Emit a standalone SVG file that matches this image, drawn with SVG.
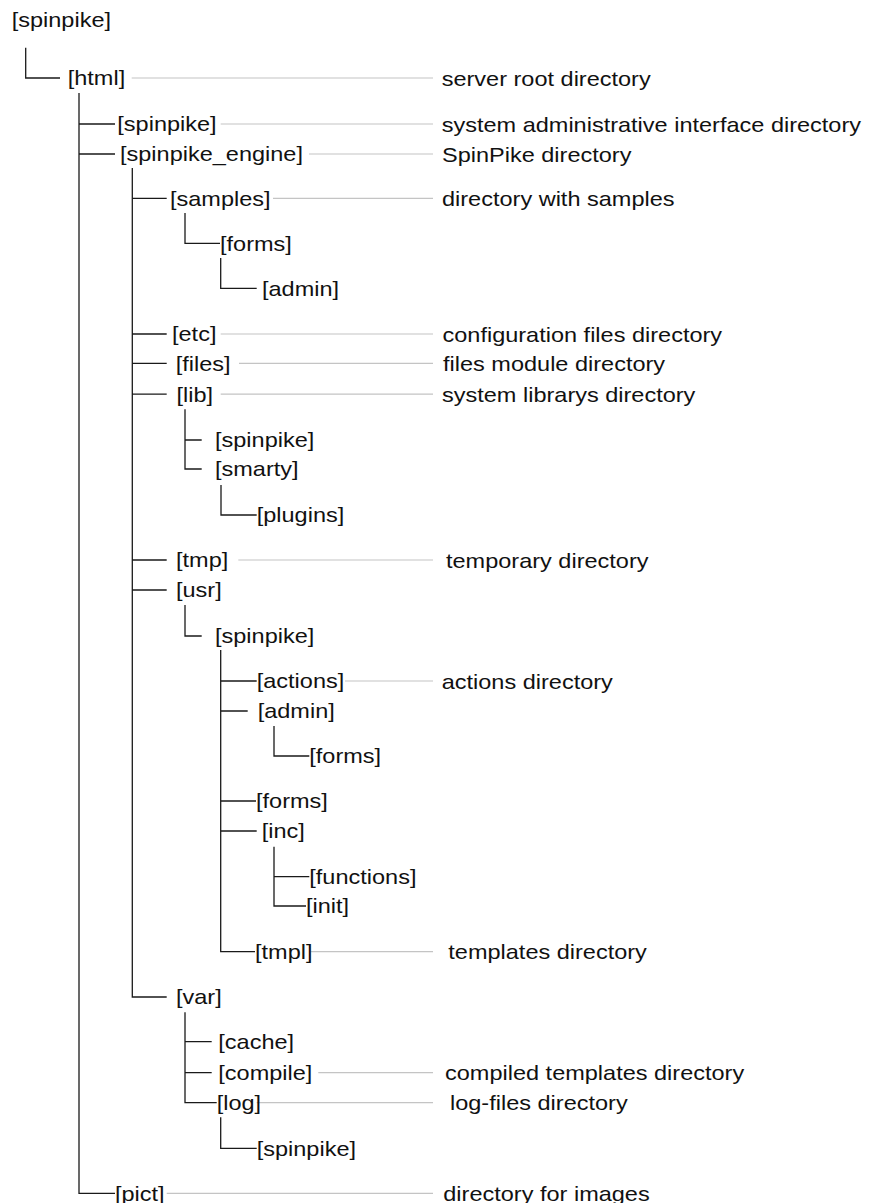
<svg xmlns="http://www.w3.org/2000/svg" width="869" height="1203" viewBox="0 0 869 1203">
<style>
text{font-family:"Liberation Sans",Arial,sans-serif;font-size:21px;fill:#111}
.c{fill:none;stroke:#1a1a1a;stroke-width:1.3}
.g{fill:none;stroke:#c4c4c4;stroke-width:1.2}
</style>
<rect width="869" height="1203" fill="#fff"/>
<g id="connectors">
<path class="g" d="M131.7 78H433M220.7 124H433M309 154H433M273 198.3H433M220.7 334H433M239 363.3H433M220.7 394.2H433M238.3 560H433M345 681H433M310.7 951.7H433M318.3 1072.7H433M256.7 1102.7H433M166.7 1193.3H433"/>
<path class="c" d="M25.7 47.7V78H60"/>
<path class="c" d="M79 93V1193.3H115M79 124H115M79 154H115"/>
<path class="c" d="M132.3 168V997H166.7M132.3 198.3H166.7M132.3 334H166.7M132.3 363.3H166.7M132.3 394.2H166.7M132.3 560H166.7M132.3 590H166.7"/>
<path class="c" d="M185 213V243.3H220"/>
<path class="c" d="M220.7 258V288.3H256.7"/>
<path class="c" d="M185 409.3V469H201.7M185 440H201.7"/>
<path class="c" d="M221 485V515H256.7"/>
<path class="c" d="M185 605V636H201.7"/>
<path class="c" d="M220.7 650V951.7H255M220.7 681H256.7M220.7 711H247.7M220.7 801H256M220.7 831H256.7"/>
<path class="c" d="M274 726V756H309.3"/>
<path class="c" d="M274 846.7V906H306M274 876.7H309.3"/>
<path class="c" d="M185 1012.3V1102.7H216.7M185 1041.7H211.7M185 1072.7H211.7"/>
<path class="c" d="M220.7 1117.3V1148.3H256.7"/>
</g>
<g id="n-root" transform="translate(11.7 27) scale(1.12 1)"><text>[spinpike]</text></g>
<g id="n-html" transform="translate(67.7 85.3) scale(1.12 1)"><text>[html]</text></g>
<g id="n-spinpike" transform="translate(117.3 131.3) scale(1.12 1)"><text>[spinpike]</text></g>
<g id="n-engine" transform="translate(120 161.3) scale(1.12 1)"><text>[spinpike_engine]</text></g>
<g id="n-samples" transform="translate(170 205.6) scale(1.12 1)"><text>[samples]</text></g>
<g id="n-samples-forms" transform="translate(220 250.6) scale(1.12 1)"><text>[forms]</text></g>
<g id="n-samples-admin" transform="translate(262 295.6) scale(1.12 1)"><text>[admin]</text></g>
<g id="n-etc" transform="translate(172 341.3) scale(1.12 1)"><text>[etc]</text></g>
<g id="n-files" transform="translate(175.7 370.6) scale(1.12 1)"><text>[files]</text></g>
<g id="n-lib" transform="translate(176.5 401.5) scale(1.12 1)"><text>[lib]</text></g>
<g id="n-lib-spinpike" transform="translate(215 447.3) scale(1.12 1)"><text>[spinpike]</text></g>
<g id="n-smarty" transform="translate(215 476.3) scale(1.12 1)"><text>[smarty]</text></g>
<g id="n-plugins" transform="translate(256.7 522.3) scale(1.12 1)"><text>[plugins]</text></g>
<g id="n-tmp" transform="translate(176 567.3) scale(1.12 1)"><text>[tmp]</text></g>
<g id="n-usr" transform="translate(176 597.3) scale(1.12 1)"><text>[usr]</text></g>
<g id="n-usr-spinpike" transform="translate(215 643.3) scale(1.12 1)"><text>[spinpike]</text></g>
<g id="n-actions" transform="translate(256.7 688.3) scale(1.12 1)"><text>[actions]</text></g>
<g id="n-usr-admin" transform="translate(257.7 718.3) scale(1.12 1)"><text>[admin]</text></g>
<g id="n-admin-forms" transform="translate(309.3 763.3) scale(1.12 1)"><text>[forms]</text></g>
<g id="n-usr-forms" transform="translate(256 808.3) scale(1.12 1)"><text>[forms]</text></g>
<g id="n-inc" transform="translate(261.7 838.3) scale(1.12 1)"><text>[inc]</text></g>
<g id="n-functions" transform="translate(309.3 884) scale(1.12 1)"><text>[functions]</text></g>
<g id="n-init" transform="translate(306 913.3) scale(1.12 1)"><text>[init]</text></g>
<g id="n-tmpl" transform="translate(255 959) scale(1.12 1)"><text>[tmpl]</text></g>
<g id="n-var" transform="translate(176 1004.3) scale(1.12 1)"><text>[var]</text></g>
<g id="n-cache" transform="translate(218.3 1049) scale(1.12 1)"><text>[cache]</text></g>
<g id="n-compile" transform="translate(218.3 1080) scale(1.12 1)"><text>[compile]</text></g>
<g id="n-log" transform="translate(216.7 1110) scale(1.12 1)"><text>[log]</text></g>
<g id="n-log-spinpike" transform="translate(256.7 1155.6) scale(1.12 1)"><text>[spinpike]</text></g>
<g id="n-pict" transform="translate(115 1200.6) scale(1.12 1)"><text>[pict]</text></g>
<g id="descriptions">
<g id="d-html" transform="translate(441.7 85.6) scale(1.12 1)"><text>server root directory</text></g>
<g id="d-spinpike" transform="translate(441.7 131.6) scale(1.12 1)"><text>system administrative interface directory</text></g>
<g id="d-engine" transform="translate(442 161.6) scale(1.12 1)"><text>SpinPike directory</text></g>
<g id="d-samples" transform="translate(442 205.9) scale(1.12 1)"><text>directory with samples</text></g>
<g id="d-etc" transform="translate(442.5 341.6) scale(1.12 1)"><text>configuration files directory</text></g>
<g id="d-files" transform="translate(443 370.9) scale(1.12 1)"><text>files module directory</text></g>
<g id="d-lib" transform="translate(442 401.8) scale(1.12 1)"><text>system librarys directory</text></g>
<g id="d-tmp" transform="translate(446 567.6) scale(1.12 1)"><text>temporary directory</text></g>
<g id="d-actions" transform="translate(441.7 688.6) scale(1.12 1)"><text>actions directory</text></g>
<g id="d-tmpl" transform="translate(448.3 959.3) scale(1.12 1)"><text>templates directory</text></g>
<g id="d-compile" transform="translate(445 1080.3) scale(1.12 1)"><text>compiled templates directory</text></g>
<g id="d-log" transform="translate(450 1110.3) scale(1.12 1)"><text>log-files directory</text></g>
<g id="d-pict" transform="translate(443.3 1200.9) scale(1.12 1)"><text>directory for images</text></g>
</g>
</svg>
